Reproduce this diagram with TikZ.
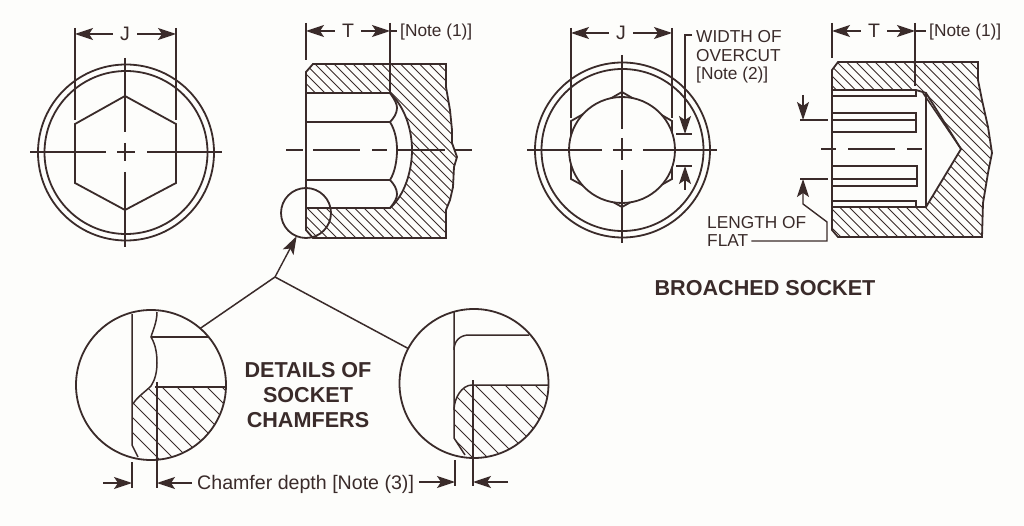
\documentclass[tikz,border=0pt]{standalone}
\usepackage{fontspec}
\setmainfont{Liberation Sans}
\usepackage{tikz}
\usetikzlibrary{arrows.meta}
\definecolor{ink}{HTML}{3A2B2A}
\definecolor{paper}{HTML}{FDFDFB}
\tikzset{
	ln/.style={draw=ink, line width=1.5pt},
	thk/.style={draw=ink, line width=1.8pt},
	hatchln/.style={draw=ink, line width=0.9pt},
	dim/.style={draw=ink, line width=1.4pt, -{Stealth[length=18pt,width=12pt,inset=4pt]}},
	lbl/.style={text=ink, inner sep=3pt, font=\fontsize{17.3}{20}\selectfont},
	letter/.style={text=ink, inner sep=7pt, font=\fontsize{19.5}{20}\selectfont},
	heading/.style={text=ink, inner sep=3pt, font=\bfseries\fontsize{21.6}{24}\selectfont},
	ring/.style={circle, thk, inner sep=0pt, outer sep=0pt}
}
% hatching: first x, second x, last x
\newcommand{\hatchlines}[3]{\foreach \hx in {#1,#2,...,#3} \draw[hatchln] (\hx,0) -- ({\hx+600},600);}
\newcommand{\secA}{(313,64) -- (446,64) -- (446,87) -- (450,110) -- (452,130) -- (452,143) -- (457,157) -- (454,167) -- (453,187) -- (450,200) -- (446,210) -- (446,238) -- (313,238) -- (306,230) -- (306,208) -- (390,208) .. controls (405,195) and (412,170) .. (412,150) .. controls (412,130) and (405,107) .. (390,93) -- (306,93) -- (306,72) -- cycle}
\newcommand{\secB}{(838,62) -- (978,62) -- (978,80) -- (982,100) -- (988,127) -- (992,153) -- (988,173) -- (983,203) -- (982,237) -- (838,237) -- (832,230) -- (832,207) -- (926,207) -- (961,149) -- (926,93) -- (916,90) -- (832,90) -- (832,70) -- cycle}

\begin{document}
\begin{tikzpicture}[x=1pt,y=-1pt]
\useasboundingbox (0,0) rectangle (1024,526);
\fill[paper] (0,0) rectangle (1024,526);

% left end view
\draw[thk] (126,152.5) circle (88);
\draw[thk] (126,152.5) circle (81.5);
\draw[thk] (125,96) -- (176,124) -- (176,183) -- (125,210) -- (75,183) -- (75,124) -- cycle;
\draw[ln] (30,152) -- (106,152) (117,152) -- (135,152) (147,152) -- (222,152);
\draw[ln] (125,58) -- (125,132) (125,143) -- (125,161) (125,172) -- (125,247);
\draw[ln] (75,28) -- (75,120) (176,28) -- (176,120);
\coordinate (ja) at (75,34);
\coordinate (jb) at (176,34);
\node (j) at (125,34) [letter] {J} edge[dim] (ja) edge[dim] (jb);

% left section
\begin{scope}
	\clip \secA;
	\hatchlines{-300}{-290.5}{500}
\end{scope}
\draw[thk] \secA;
\draw[thk] (306,93) -- (306,208);
\draw[thk] (306,122) -- (390,122) (306,180) -- (390,180);
\draw[thk] (390,122) .. controls (395,130) and (397,140) .. (397,150) .. controls (397,160) and (395,172) .. (390,180);
\draw[thk] (390,93) .. controls (395,100) and (397,104) .. (397,108) .. controls (397,113) and (394,118) .. (390,122);
\draw[thk] (390,180) .. controls (394,184) and (397,189) .. (397,194) .. controls (397,198) and (395,202) .. (390,208);
\draw[ln] (286,150) -- (303,150) (313,150) -- (360,150) (372,150) -- (387,150) (397,150) -- (445,150) (455,150) -- (472,150);
\draw[ln] (306,23) -- (306,60) (390,23) -- (390,93);
\coordinate (ta) at (306,31);
\coordinate (tb) at (390,31);
\node (t) at (348,31) [letter] {T} edge[dim] (ta) edge[dim] (tb);
\node (n1) at (397,32.5) [lbl, anchor=west] {[Note (1)]};
\draw[ln] (tb) -- (n1.west |- tb);

% circle and detail leaders
\node (spot) at (306,213) [ring, minimum size=50pt] {};
\node (dta) at (151,385) [ring, minimum size=150pt] {};
\node (dtb) at (474,383.5) [ring, minimum size=149pt] {};
\coordinate (fork) at (275,277);
\draw[dim] (fork) -- (spot.248);
\draw[ln] (fork) -- (dta.49);
\draw[ln] (fork) -- (dtb.152);

% detail with sharp chamfer
\begin{scope}
	\clip (151,385) circle (75);
	\clip (151,386) -- (240,387) -- (240,480) -- (145,480) -- (138,457) -- (132,445) -- (132,404) .. controls (137,397) and (145,392) .. (151,386);
	\hatchlines{-300}{-285}{200}
\end{scope}
\draw[ln] (132,314) -- (132,445) -- (138,457);
\draw[ln] (157,312) .. controls (157,322) and (153,330) .. (151,337) .. controls (156,345) and (157,355) .. (157,363) .. controls (157,372) and (155,380) .. (151,386) .. controls (145,392) and (137,397) .. (133,404);
\draw[ln] (151,337) -- (208,337);
\draw[ln] (155,387) -- (226,387);
\draw[ln] (157,382) -- (157,488) (132,462) -- (132,488);
\coordinate (ca) at (132,483);
\coordinate (cb) at (157,483);
\coordinate (cc) at (103,483);
\draw[dim] (cc) -- (ca);
\node (cham) at (192,484.5) [lbl, anchor=west, inner sep=5pt, font=\fontsize{19.6}{22}\selectfont] {Chamfer depth [Note (3)]};
\draw[dim] (cham.west |- cb) -- (cb);

% detail with round chamfer
\begin{scope}
	\clip (474,383.5) circle (74.5);
	\clip (472,385) -- (560,385) -- (560,470) -- (470,470) -- (465,455) -- (454,438) -- (454,410) .. controls (454,398) and (462,386) .. (472,385);
	\hatchlines{-300}{-285}{500}
\end{scope}
\draw[ln] (454,312) -- (454,438) -- (465,455);
\draw[ln] (454,350) .. controls (454,341) and (460,335) .. (469,335) -- (529,335);
\draw[ln] (454,410) .. controls (454,398) and (462,385) .. (472,385) -- (548,385);
\draw[ln] (473,380) -- (473,486) (455,460) -- (455,486);
\coordinate (cd) at (455,482);
\coordinate (ce) at (473,482);
\coordinate (cf) at (508,482);
\draw[dim] (cham.east |- cd) -- (cd);
\draw[dim] (cf) -- (ce);

% right end view
\draw[thk] (622.5,150) circle (87.5);
\draw[thk] (622.5,150) circle (81);
\draw[thk] (622,92) -- (672,121) -- (672,179) -- (622,207) -- (571,179) -- (571,121) -- cycle;
\draw[thk, fill=paper] (622,150) circle (53);
\draw[ln] (527,150) -- (602,150) (613,150) -- (632,150) (643,150) -- (717,150);
\draw[ln] (622,55) -- (622,129) (622,138) -- (622,160) (622,170) -- (622,243);
\draw[ln] (571,28) -- (571,118) (672,28) -- (672,118);
\coordinate (jc) at (571,33);
\coordinate (jd) at (672,33);
\node (j2) at (621,33) [letter] {J} edge[dim] (jc) edge[dim] (jd);

% overcut width
\coordinate (oa) at (685,134);
\coordinate (ob) at (685,166);
\coordinate (oc) at (685,190);
\coordinate (oz) at (692,35);
\draw[ln] (676,134) -- (692,134) (676,166) -- (692,166);
\node (w1) at (693,36.5) [lbl, anchor=west] {WIDTH OF};
\node (w2) at (693,55.5) [lbl, anchor=west] {OVERCUT};
\node (w3) at (693,75) [lbl, anchor=west] {[Note (2)]};
\draw[dim] (oz) -| (oa);
\draw[dim] (oc) -- (ob);

% right section
\begin{scope}
	\clip \secB;
	\hatchlines{300}{309.5}{1000}
\end{scope}
\draw[thk] \secB;
\draw[thk] (832,90) -- (832,207);
\draw[ln] (923,93) -- (961,149);
\draw[thk] (926,93) -- (926,207);
\draw[thk] (833,96) -- (916,96) -- (916,90);
\draw[thk] (833,201) -- (916,201) -- (916,207);
\draw[thk] (833,113) -- (916,113) -- (916,132) -- (833,132);
\draw[ln] (833,120) -- (916,120);
\draw[thk] (833,166) -- (917,166) -- (917,186) -- (833,186);
\draw[ln] (833,179) -- (917,179);
\draw[ln] (821,149) -- (836,149) (848,149) -- (895,149) (907,149) -- (922,149);
\draw[ln] (832,23) -- (832,58) (915,23) -- (915,86);
\coordinate (tc) at (832,31);
\coordinate (td) at (915,31);
\node (t2) at (874,31) [letter] {T} edge[dim] (tc) edge[dim] (td);
\node (n2) at (926,32.5) [lbl, anchor=west] {[Note (1)]};
\draw[ln] (td) -- (n2.west |- td);

% length of flat
\coordinate (fa) at (803,120);
\coordinate (fb) at (803,95);
\coordinate (fc) at (803,179);
\draw[ln] (800,120) -- (828,120) (800,179) -- (828,179);
\draw[dim] (fb) -- (fa);
\node (lf) at (704,222.5) [lbl, anchor=west] {LENGTH OF};
\node (fl) at (704,241) [lbl, anchor=west] {FLAT};
\draw[dim] (fl) -- (827,241) -- (827,222) -- (803,204) -- (fc);

% titles
\node (bs) at (765,288.5) [heading] {BROACHED SOCKET};
\node (d1) at (308,370.5) [heading] {DETAILS OF};
\node (d2) at (308,395) [heading] {SOCKET};
\node (d3) at (308,420.5) [heading] {CHAMFERS};
\end{tikzpicture}
\end{document}
